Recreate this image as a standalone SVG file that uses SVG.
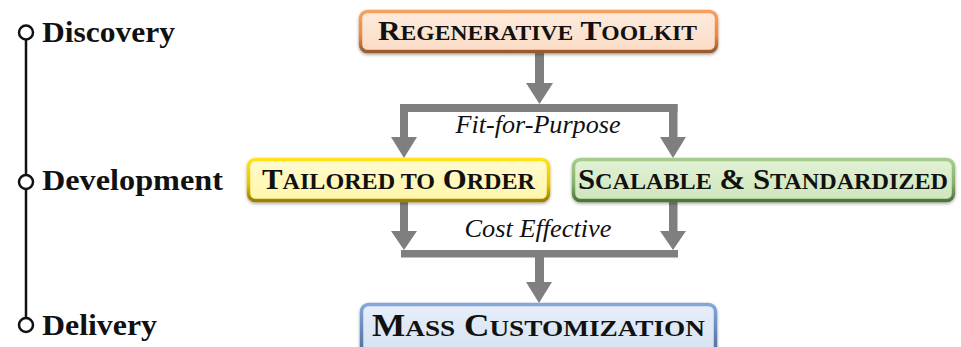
<svg xmlns="http://www.w3.org/2000/svg" width="961" height="347" viewBox="0 0 961 347">
  <defs>
    <linearGradient id="edgeOrange" x1="0" y1="0" x2="0" y2="1">
      <stop offset="0" stop-color="#f7a060"/>
      <stop offset="0.6" stop-color="#e8894a"/>
      <stop offset="1" stop-color="#9c5a2c"/>
    </linearGradient>
    <linearGradient id="fillOrange" x1="0" y1="0" x2="0" y2="1">
      <stop offset="0" stop-color="#fdebdd"/>
      <stop offset="1" stop-color="#fbdcc6"/>
    </linearGradient>
    <linearGradient id="edgeYellow" x1="0" y1="0" x2="0" y2="1">
      <stop offset="0" stop-color="#ffe21a"/>
      <stop offset="0.6" stop-color="#e8c400"/>
      <stop offset="1" stop-color="#9c7e00"/>
    </linearGradient>
    <linearGradient id="fillYellow" x1="0" y1="0" x2="0" y2="1">
      <stop offset="0" stop-color="#fffbd0"/>
      <stop offset="1" stop-color="#fff6a8"/>
    </linearGradient>
    <linearGradient id="edgeGreen" x1="0" y1="0" x2="0" y2="1">
      <stop offset="0" stop-color="#a6cc8a"/>
      <stop offset="0.6" stop-color="#86b06a"/>
      <stop offset="1" stop-color="#4e7438"/>
    </linearGradient>
    <linearGradient id="fillGreen" x1="0" y1="0" x2="0" y2="1">
      <stop offset="0" stop-color="#e2f1d6"/>
      <stop offset="1" stop-color="#cfe6bc"/>
    </linearGradient>
    <linearGradient id="edgeBlue" x1="0" y1="0" x2="0" y2="1">
      <stop offset="0" stop-color="#86a6d8"/>
      <stop offset="1" stop-color="#4d6c9e"/>
    </linearGradient>
    <linearGradient id="fillBlue" x1="0" y1="0" x2="0" y2="1">
      <stop offset="0" stop-color="#e6eef9"/>
      <stop offset="1" stop-color="#d6e2f3"/>
    </linearGradient>
    <filter id="shadow" x="-5%" y="-20%" width="110%" height="150%">
      <feDropShadow dx="0" dy="1.5" stdDeviation="1.5" flood-color="#000" flood-opacity="0.35"/>
    </filter>
  </defs>
  <style>
    .box { stroke-width: 3.5; filter: url(#shadow); }
    .title { font-family: "Liberation Serif", "Times New Roman", serif; font-weight: bold; fill: #111; }
    .stage { font-family: "Liberation Serif", "Times New Roman", serif; font-weight: bold; font-size: 30px; fill: #111; }
    .note { font-family: "Liberation Serif", "Times New Roman", serif; font-style: italic; font-size: 25px; fill: #111; text-anchor: middle; }
    .timeline { stroke: #111; stroke-width: 2.5; fill: none; }
    .dot { stroke: #111; stroke-width: 2.5; fill: #fff; }
    .flow { fill: #7f7f7f; }
  </style>

  <!-- stage timeline -->
  <g id="timeline">
    <line class="timeline" x1="26" y1="40" x2="26" y2="318"/>
    <circle class="dot" cx="26" cy="32.5" r="7"/>
    <circle class="dot" cx="26" cy="182" r="7"/>
    <circle class="dot" cx="26" cy="325" r="7"/>
    <text class="stage" x="42" y="42" textLength="133" lengthAdjust="spacingAndGlyphs">Discovery</text>
    <text class="stage" x="42" y="190" textLength="181" lengthAdjust="spacingAndGlyphs">Development</text>
    <text class="stage" x="42" y="335" textLength="115" lengthAdjust="spacingAndGlyphs">Delivery</text>
  </g>

  <!-- connectors -->
  <g id="connectors" class="flow">
    <!-- toolkit splits into the two routes -->
    <rect x="535" y="52" width="9" height="32"/>
    <polygon points="526,83 553,83 539.5,104"/>
    <rect x="400" y="104" width="277.5" height="8"/>
    <rect x="400" y="104" width="8" height="34"/>
    <polygon points="391,137 417,137 404,158"/>
    <rect x="669" y="104" width="8.5" height="34"/>
    <polygon points="660,137 686,137 673,158"/>
    <!-- the two routes merge -->
    <rect x="400" y="201" width="8" height="31"/>
    <polygon points="391,231 417,231 404,250"/>
    <rect x="669" y="201" width="8.5" height="31"/>
    <polygon points="660,231 686,231 673,250"/>
    <rect x="401" y="250" width="277" height="7.5"/>
    <rect x="535" y="257" width="9" height="26"/>
    <polygon points="526,282 552,282 539,303"/>
  </g>

  <g id="labels">
    <text class="note" x="538" y="133" textLength="165" lengthAdjust="spacingAndGlyphs">Fit-for-Purpose</text>
    <text class="note" x="538" y="237" textLength="147" lengthAdjust="spacingAndGlyphs">Cost Effective</text>
  </g>

  <g id="toolkit">
    <rect class="box" x="360.5" y="11.5" width="356" height="40" rx="7" fill="url(#fillOrange)" stroke="url(#edgeOrange)"/>
    <text class="title" x="378" y="39.5" font-size="26.5" textLength="319" lengthAdjust="spacingAndGlyphs">R<tspan font-size="20">EGENERATIVE</tspan> T<tspan font-size="20">OOLKIT</tspan></text>
  </g>

  <g id="tailored">
    <rect class="box" x="248.5" y="159.5" width="300" height="41" rx="7" fill="url(#fillYellow)" stroke="url(#edgeYellow)"/>
    <text class="title" x="262" y="188.5" font-size="30" textLength="273" lengthAdjust="spacingAndGlyphs">T<tspan font-size="23.5">AILORED TO</tspan> O<tspan font-size="23.5">RDER</tspan></text>
  </g>

  <g id="scalable">
    <rect class="box" x="573.5" y="159.5" width="380" height="41" rx="7" fill="url(#fillGreen)" stroke="url(#edgeGreen)"/>
    <text class="title" x="578" y="188.5" font-size="30" textLength="370" lengthAdjust="spacingAndGlyphs">S<tspan font-size="23.5">CALABLE</tspan> &amp; S<tspan font-size="23.5">TANDARDIZED</tspan></text>
  </g>

  <g id="mass-customization">
    <rect class="box" x="361.5" y="304.5" width="354" height="50" rx="7" fill="url(#fillBlue)" stroke="url(#edgeBlue)"/>
    <text class="title" x="372" y="335.5" font-size="31" textLength="333" lengthAdjust="spacingAndGlyphs">M<tspan font-size="24">ASS</tspan> C<tspan font-size="24">USTOMIZATION</tspan></text>
  </g>
</svg>
